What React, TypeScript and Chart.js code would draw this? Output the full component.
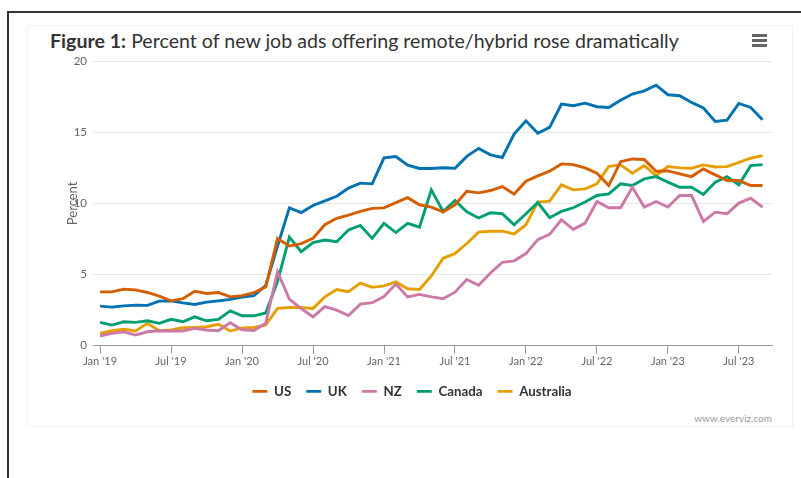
import React, { useEffect, useRef } from "react";
import { Chart, registerables } from "chart.js";

Chart.register(...registerables);

const months = [
  "2019-01","2019-02","2019-03","2019-04","2019-05","2019-06","2019-07","2019-08","2019-09","2019-10","2019-11","2019-12",
  "2020-01","2020-02","2020-03","2020-04","2020-05","2020-06","2020-07","2020-08","2020-09","2020-10","2020-11","2020-12",
  "2021-01","2021-02","2021-03","2021-04","2021-05","2021-06","2021-07","2021-08","2021-09","2021-10","2021-11","2021-12",
  "2022-01","2022-02","2022-03","2022-04","2022-05","2022-06","2022-07","2022-08","2022-09","2022-10","2022-11","2022-12",
  "2023-01","2023-02","2023-03","2023-04","2023-05","2023-06","2023-07","2023-08","2023-09",
];

const tickMonths = ["2019-01","2019-07","2020-01","2020-07","2021-01","2021-07","2022-01","2022-07","2023-01","2023-07"];
const tickLabels = ["Jan '19","Jul '19","Jan '20","Jul '20","Jan '21","Jul '21","Jan '22","Jul '22","Jan '23","Jul '23"];
const yTicks = [0, 5, 10, 15, 20];

const US = [
  3.78,3.78,3.97,3.92,3.74,3.48,3.15,3.3,3.83,3.67,3.74,3.43,
  3.52,3.72,4.13,7.52,7.0,7.17,7.55,8.5,8.95,9.18,9.43,9.65,
  9.68,10.05,10.4,9.9,9.74,9.4,9.9,10.84,10.74,10.9,11.18,10.65,
  11.55,11.93,12.26,12.77,12.72,12.49,12.12,11.25,12.93,13.12,13.08,12.26,
  12.28,12.07,11.88,12.42,12.0,11.6,11.6,11.25,11.25,
];
const UK = [
  2.78,2.71,2.8,2.85,2.83,3.13,3.15,3.01,2.9,3.06,3.15,3.25,
  3.42,3.52,4.22,7.0,9.68,9.35,9.85,10.17,10.5,11.07,11.42,11.37,
  13.2,13.29,12.69,12.45,12.45,12.5,12.47,13.3,13.86,13.41,13.22,14.87,
  15.8,14.92,15.34,16.97,16.86,17.04,16.79,16.74,17.25,17.68,17.9,18.3,
  17.63,17.56,17.09,16.7,15.76,15.85,17.02,16.74,15.88,
];
const NZ = [
  0.68,0.87,0.98,0.75,0.98,1.05,1.03,1.03,1.22,1.1,1.05,1.62,
  1.12,1.07,1.57,5.18,3.28,2.6,2.03,2.75,2.5,2.12,2.92,3.02,
  3.45,4.33,3.43,3.6,3.43,3.3,3.76,4.65,4.24,5.11,5.85,5.96,
  6.47,7.45,7.82,8.85,8.17,8.61,10.13,9.69,9.69,11.13,9.74,10.13,
  9.74,10.55,10.55,8.73,9.38,9.27,10.02,10.36,9.74,
];
const Canada = [
  1.64,1.45,1.68,1.64,1.75,1.57,1.85,1.68,2.03,1.75,1.85,2.45,
  2.1,2.1,2.3,4.5,7.63,6.6,7.25,7.42,7.3,8.13,8.45,7.54,
  8.6,7.95,8.6,8.33,10.95,9.43,10.2,9.4,8.97,9.34,9.27,8.5,
  9.27,10.06,8.99,9.43,9.69,10.09,10.55,10.67,11.37,11.25,11.72,11.88,
  11.49,11.13,11.13,10.62,11.49,11.88,11.3,12.65,12.72,
];
const Australia = [
  0.87,1.05,1.15,1.03,1.57,1.05,1.1,1.26,1.29,1.33,1.5,1.03,
  1.25,1.28,1.45,2.62,2.68,2.68,2.62,3.43,3.95,3.8,4.4,4.1,
  4.2,4.48,4.0,3.95,4.9,6.14,6.47,7.18,7.98,8.04,8.05,7.86,
  8.5,10.09,10.15,11.3,10.95,11.02,11.37,12.6,12.7,12.12,12.65,11.95,
  12.58,12.49,12.47,12.7,12.55,12.58,12.88,13.17,13.35,
];

const seriesNames = ["US", "UK", "NZ", "Canada", "Australia"];
const seriesValues = [US, UK, NZ, Canada, Australia];
const seriesColors = ["#D55E00", "#0072B2", "#CC79A7", "#009E73", "#E69F00"];

const FONT = "Lato, 'Open Sans', sans-serif";

export default function App() {
  const ref = useRef<HTMLCanvasElement | null>(null);

  useEffect(() => {
    if (!ref.current) return;
    const chart = new Chart(ref.current, {
      type: "line",
      data: {
        datasets: seriesNames.map((name, k) => ({
          label: name,
          data: seriesValues[k].map((v, i) => ({ x: i, y: v })),
          borderColor: seriesColors[k],
          backgroundColor: seriesColors[k],
          borderWidth: 2.9,
          pointRadius: 0,
          tension: 0,
          fill: false,
        })),
      },
      options: {
        responsive: false,
        animation: false,
        events: [],
        layout: { padding: { left: 52, right: 29, top: 61, bottom: 70 } },
        plugins: {
          tooltip: { enabled: false },
          title: { display: false },
          legend: {
            position: "bottom",
            labels: {
              usePointStyle: true,
              pointStyle: "line",
              pointStyleWidth: 15,
              boxHeight: 13,
              padding: 15,
              color: "#333333",
              font: { family: FONT, size: 13.3, weight: "bold" },
            },
          },
        },
        scales: {
          x: {
            type: "linear",
            min: -0.6,
            max: 56.8,
            afterBuildTicks: (s: any) => {
              s.ticks = tickMonths.map((m) => ({ value: months.indexOf(m) }));
            },
            afterFit: (s: any) => {
              s.height = 24;
            },
            ticks: {
              autoSkip: false,
              maxRotation: 0,
              padding: 1,
              color: "#666666",
              font: { family: FONT, size: 11 },
              callback: (_v: any, idx: number) => tickLabels[idx],
            },
            grid: { display: true, drawOnChartArea: false, drawTicks: true, tickLength: 8, color: "#999999" },
            border: { display: true, color: "#999999", width: 1 },
          },
          y: {
            min: 0,
            max: 20,
            afterBuildTicks: (s: any) => {
              s.ticks = yTicks.map((v) => ({ value: v }));
            },
            afterFit: (s: any) => {
              s.width = 41;
            },
            ticks: { padding: 6, color: "#666666", font: { family: FONT, size: 11.5 } },
            grid: { color: "#e6e6e6", drawTicks: false, lineWidth: 1 },
            border: { display: false },
            title: {
              display: true,
              text: "Percent",
              color: "#666666",
              font: { family: FONT, size: 13 },
              padding: { top: 13, bottom: 0 },
            },
          },
        },
      },
    });
    return () => chart.destroy();
  }, []);

  return (
    <div style={{ position: "absolute", left: 0, top: 0, width: 801, height: 478, background: "#fff", overflow: "hidden" }}>
      <div style={{ position: "absolute", left: 7, top: 11, width: 800, height: 1.5, background: "#333" }} />
      <div style={{ position: "absolute", left: 7, top: 11, width: 1.5, height: 470, background: "#333" }} />
      <div style={{ position: "absolute", left: 27, top: 25, width: 766, height: 402, border: "1px solid #f0f0f0", boxSizing: "border-box" }} />
      <div
        style={{
          position: "absolute",
          left: 50,
          top: 28.5,
          fontFamily: FONT,
          fontSize: 19.6,
          lineHeight: "24px",
          color: "#333333",
          whiteSpace: "nowrap",
        }}
      >
        <b>Figure 1:</b> Percent of new job ads offering remote/hybrid rose dramatically
      </div>
      <div style={{ position: "absolute", left: 752, top: 34, width: 15, height: 2.5, background: "#666" }} />
      <div style={{ position: "absolute", left: 752, top: 39, width: 15, height: 2.5, background: "#666" }} />
      <div style={{ position: "absolute", left: 752, top: 44, width: 15, height: 2.5, background: "#666" }} />
      <div
        style={{
          position: "absolute",
          right: 801 - 772,
          top: 412,
          fontFamily: FONT,
          fontSize: 10,
          color: "#999999",
          whiteSpace: "nowrap",
        }}
      >
        www.everviz.com
      </div>
      <canvas ref={ref} width={801} height={478} style={{ position: "absolute", left: 0, top: 0, width: 801, height: 478 }} />
    </div>
  );
}
